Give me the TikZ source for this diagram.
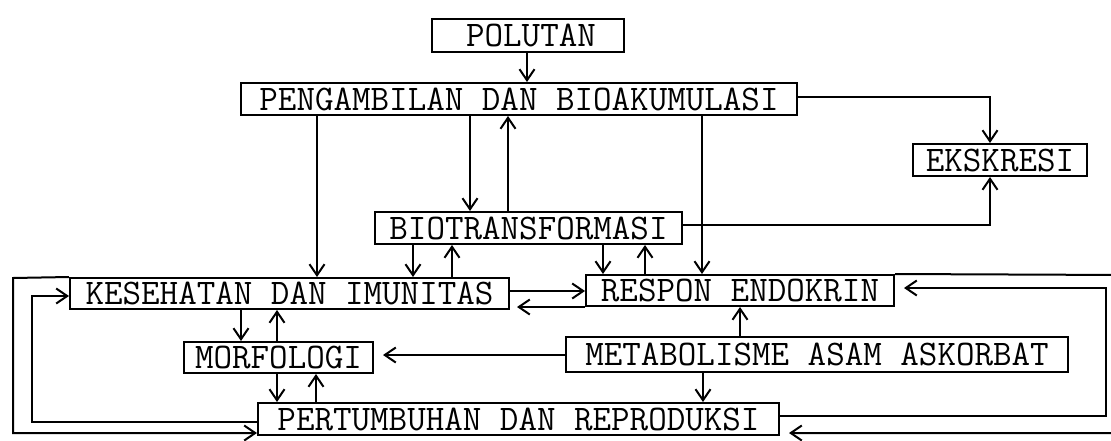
\documentclass[tikz,border=0pt]{standalone}
\usetikzlibrary{arrows.meta}
\tikzset{
  blok/.style={draw, line width=2pt, inner sep=0pt, minimum height=32pt,
    font=\fontsize{36}{40}\selectfont\ttfamily},
  arr/.style={-{Straight Barb[length=11pt,width=15pt]}, line width=2pt}
}
\begin{document}
\begin{tikzpicture}[x=1pt,y=-1pt]
\useasboundingbox (0,0) rectangle (1111,440);

\node[blok, minimum width=192pt, minimum height=33pt] (pol) at (528,35.5) {\hspace*{6pt}POLUTAN};
\node[blok, minimum width=556pt] (peng) at (519,99) {PENGAMBILAN DAN BIOAKUMULASI};
\node[blok, minimum width=174pt] (eks) at (1000,160) {EKSKRESI};
\node[blok, minimum width=307pt] (bio) at (528.5,228) {BIOTRANSFORMASI};
\node[blok, minimum width=439pt, minimum height=31pt] (kes) at (289.5,293.5) {KESEHATAN DAN IMUNITAS};
\node[blok, minimum width=308pt, minimum height=31pt] (res) at (740,290.5) {RESPON ENDOKRIN};
\node[blok, minimum width=189pt, minimum height=31pt] (morf) at (278.5,357.5) {MORFOLOGI};
\node[blok, minimum width=502pt, minimum height=35pt] (met) at (817,354.5) {METABOLISME ASAM ASKORBAT};
\node[blok, minimum width=521pt] (pert) at (518.5,419) {PERTUMBUHAN DAN REPRODUKSI};

\foreach \a/\b/\x in {pol/peng/527, peng/kes/317, peng/bio/470, peng/res/702,
  bio/kes/413, bio/res/603, kes/morf/241, morf/pert/277, met/pert/703}
  \draw[arr] (\a.south -| \x,0) -- (\b.north -| \x,0);
\foreach \a/\b/\x in {bio/peng/508, kes/bio/452, res/bio/645,
  morf/kes/277, pert/morf/316, met/res/740}
  \draw[arr] (\a.north -| \x,0) -- (\b.south -| \x,0);

\draw[arr] (kes.east |- 0,291) -- (res.west |- 0,291);
\draw[arr, shorten >=7pt] (res.south west) -- (kes.east |- res.south west);
\draw[arr, shorten >=9pt] (met.west |- 0,355) -- (morf.east |- 0,355);

\draw[arr] (peng.east |- 0,97) -| (990,0 |- eks.north);
\draw[arr] (bio.east |- 0,225) -| (990,0 |- eks.south);

\draw[arr] (pert.west |- 0,422) -- (32,422) |- (kes.west |- 0,296);
\draw[arr] (kes.north west) -- (13,278) |- (pert.west |- 0,433);
\draw[arr, shorten >=9pt] (pert.east |- 0,416) -- (1106,416) |- (res.east |- 0,288);
\draw[arr, shorten >=9pt] (res.north east) -- (1125,275) |- (pert.east |- 0,433);

\end{tikzpicture}
\end{document}
